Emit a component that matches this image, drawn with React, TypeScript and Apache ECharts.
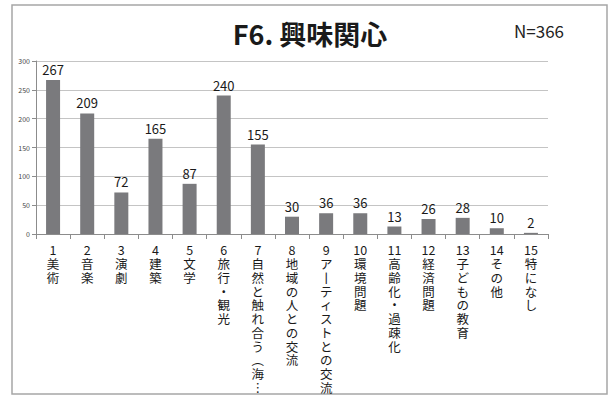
import React, { useEffect, useRef } from "react";
import * as echarts from "echarts";

const categories = [
  "1 美術",
  "2 音楽",
  "3 演劇",
  "4 建築",
  "5 文学",
  "6 旅行・観光",
  "7 自然と触れ合う︵海︙",
  "8 地域の人との交流",
  "9 アーティストとの交流",
  "10 環境問題",
  "11 高齢化・過疎化",
  "12 経済問題",
  "13 子どもの教育",
  "14 その他",
  "15 特になし",
];
const values = [267, 209, 72, 165, 87, 240, 155, 30, 36, 36, 13, 26, 28, 10, 2];
const yTicks = { min: 0, max: 300, interval: 50 };
const titleText = "F6. 興味関心";
const nText = "N=366";

const FONT = "'Noto Sans CJK JP', 'Open Sans', sans-serif";

function verticalLabel(s: string): string {
  const idx = s.indexOf(" ");
  const num = s.slice(0, idx);
  const rest = s.slice(idx + 1).replace(/ー/g, "丨");
  return [num, ...Array.from(rest)].join("\n");
}

export default function App() {
  const ref = useRef<HTMLDivElement>(null);
  useEffect(() => {
    if (!ref.current) return;
    const chart = echarts.init(ref.current, undefined, { renderer: "svg" });
    chart.setOption({
      animation: false,
      backgroundColor: "#ffffff",
      textStyle: { fontFamily: FONT },
      graphic: [
        {
          type: "rect",
          shape: { x: 12, y: 5, width: 595, height: 389 },
          style: { fill: "none", stroke: "#a6a6a6", lineWidth: 1.5 },
          z: 0,
        },
        {
          type: "text",
          x: 310,
          y: 33,
          style: {
            text: titleText,
            fontSize: 27,
            fontWeight: "bold",
            fontFamily: FONT,
            fill: "#1a1a1a",
            align: "center",
            verticalAlign: "middle",
          },
        },
        {
          type: "text",
          x: 539,
          y: 30,
          style: {
            text: nText,
            fontSize: 17,
            fontFamily: FONT,
            fill: "#222222",
            align: "center",
            verticalAlign: "middle",
          },
        },
      ],
      grid: { left: 36, right: 62, top: 61, bottom: 162, containLabel: false },
      xAxis: {
        type: "category",
        data: categories,
        axisLine: { lineStyle: { color: "#8c8c8c", width: 1 } },
        axisTick: { show: true, alignWithLabel: false, length: 5, lineStyle: { color: "#8c8c8c" } },
        axisLabel: {
          interval: 0,
          margin: 9,
          color: "#1a1a1a",
          fontSize: 12.5,
          lineHeight: 13.75,
          fontFamily: FONT,
          formatter: (v: string) => verticalLabel(v),
        },
      },
      yAxis: {
        type: "value",
        min: yTicks.min,
        max: yTicks.max,
        interval: yTicks.interval,
        axisLine: { show: true, lineStyle: { color: "#8c8c8c" } },
        axisTick: { show: true, length: 4, lineStyle: { color: "#8c8c8c" } },
        axisLabel: { fontSize: 7, color: "#444444", margin: 6, fontFamily: FONT },
        splitLine: { lineStyle: { color: "#c4c4c4", width: 1 } },
      },
      series: [
        {
          type: "bar",
          data: values,
          barWidth: 14,
          itemStyle: { color: "#7a7a7d" },
          label: {
            show: true,
            position: "top",
            distance: 4,
            fontSize: 13,
            color: "#1a1a1a",
            fontFamily: FONT,
          },
        },
      ],
    });
    return () => chart.dispose();
  }, []);
  return (
    <div
      ref={ref}
      style={{ position: "fixed", left: 0, top: 0, width: 610, height: 396 }}
    />
  );
}
